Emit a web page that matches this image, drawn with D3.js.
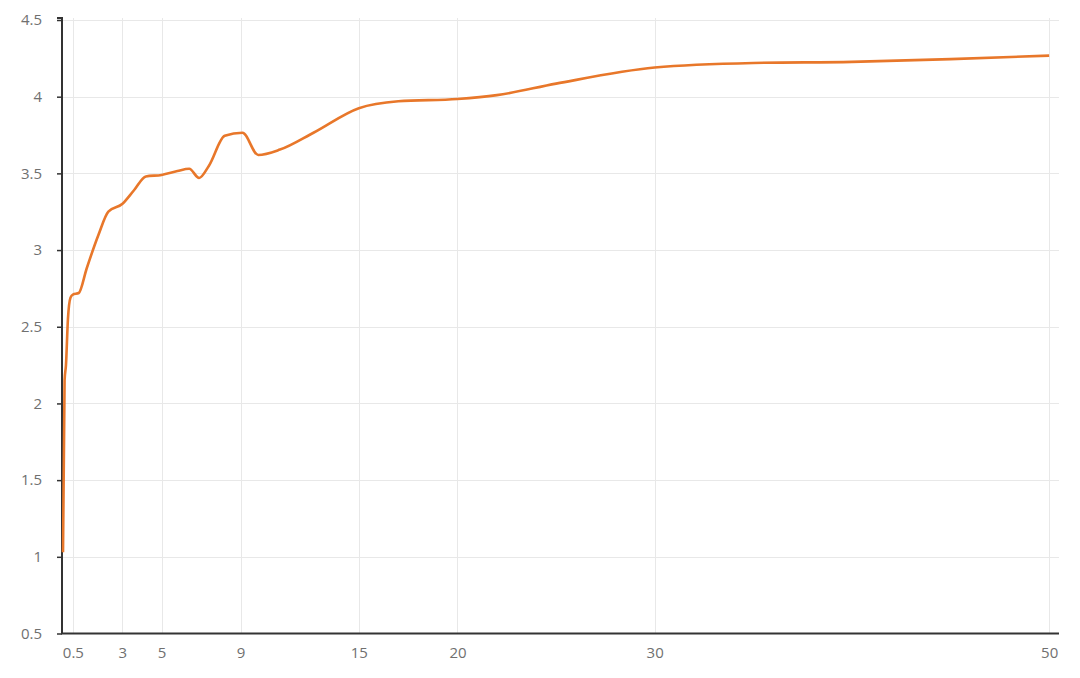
<!DOCTYPE html>
<html>
<head>
<meta charset="utf-8">
<script src="https://cdn.jsdelivr.net/npm/d3@7"></script>
<style>
  html, body { margin: 0; padding: 0; background: #ffffff; }
  svg { display: block; }
  text { font-family: "Open Sans", "Noto Sans", sans-serif; }
</style>
</head>
<body>
<svg id="chart" width="1080" height="678"></svg>
<script>
// Data
const xValues = [0, 0.08, 0.15, 0.25, 0.38, 0.5, 0.8, 1.2, 1.8, 2.3, 3, 3.6, 4.2, 5, 5.8, 6.4, 6.9, 7.4, 8.2, 9.1, 9.9, 11, 12.7, 15, 17, 20, 22, 25, 30, 35, 40, 45, 50];
const yValues = [1.03, 2.15, 2.25, 2.55, 2.69, 2.71, 2.72, 2.88, 3.1, 3.25, 3.3, 3.39, 3.48, 3.49, 3.515, 3.53, 3.47, 3.55, 3.745, 3.765, 3.62, 3.655, 3.765, 3.925, 3.97, 3.985, 4.01, 4.085, 4.19, 4.22, 4.227, 4.245, 4.268];
const xTicks = [0.5, 3, 5, 9, 15, 20, 30, 50];
const yTicks = [0.5, 1, 1.5, 2, 2.5, 3, 3.5, 4, 4.5];

const svg = d3.select("#chart");
const mLeft = 63, mRight = 1059, mTop = 20, mBottom = 633.5;

const x = d3.scaleLinear().domain([0, 50.5]).range([mLeft, mRight]);
const y = d3.scaleLinear().domain([0.5, 4.5]).range([mBottom, mTop]);

// grid lines
svg.append("g").selectAll("line").data(yTicks.filter(d => d > 0.5)).join("line")
  .attr("x1", mLeft).attr("x2", mRight)
  .attr("y1", d => Math.round(y(d)) + 0.5).attr("y2", d => Math.round(y(d)) + 0.5)
  .attr("stroke", "#e8e8e8").attr("stroke-width", 1);
svg.append("g").selectAll("line").data(xTicks).join("line")
  .attr("x1", d => Math.round(x(d)) + 0.5).attr("x2", d => Math.round(x(d)) + 0.5)
  .attr("y1", mTop - 2).attr("y2", mBottom)
  .attr("stroke", "#e8e8e8").attr("stroke-width", 1);

// y axis
const yAxis = d3.axisLeft(y).tickValues(yTicks).tickSize(5).tickPadding(15)
  .tickFormat(d => String(d));
const gy = svg.append("g").attr("transform", `translate(${mLeft - 1},0)`).call(yAxis);
gy.select(".domain").attr("stroke", "#333").attr("stroke-width", 2).attr("d", `M-5,${mTop - 2}H0V${mBottom}`);
gy.selectAll(".tick line").attr("stroke", "#333").attr("stroke-width", 1.5);
gy.selectAll(".tick text").attr("fill", "#707070").style("font-size", "15px");

// x axis
const xAxis = d3.axisBottom(x).tickValues(xTicks).tickSize(0).tickPadding(14)
  .tickFormat(d => String(d));
const gx = svg.append("g").attr("transform", `translate(0,${mBottom})`).call(xAxis);
gx.select(".domain").attr("stroke", "#333").attr("stroke-width", 2).attr("d", `M${mLeft - 2},0H${mRight}`);
gx.selectAll(".tick text").attr("fill", "#707070").style("font-size", "15px");

// line
const pts = xValues.map((v, i) => [v, yValues[i]]);
const line = d3.line().x(d => x(d[0])).y(d => y(d[1])).curve(d3.curveMonotoneX);
svg.append("path").datum(pts)
  .attr("d", line)
  .attr("fill", "none")
  .attr("stroke", "#e8772a")
  .attr("stroke-width", 2.6)
  .attr("stroke-linejoin", "round");
</script>
</body>
</html>
